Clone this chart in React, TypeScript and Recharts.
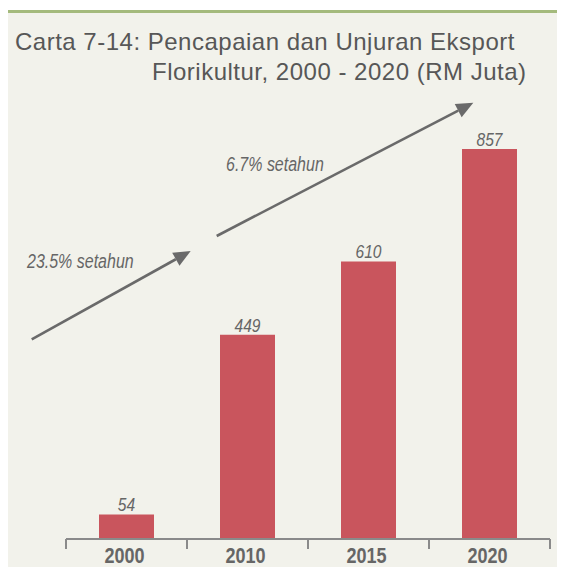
import { BarChart, Bar, XAxis, YAxis, LabelList } from "recharts";

const years = ["2000", "2010", "2015", "2020"];
const exportValues = [54, 449, 610, 857];
const growthNotes = ["23.5% setahun", "6.7% setahun"];
const titleLines = [
  "Carta 7-14: Pencapaian dan Unjuran Eksport",
  "Florikultur, 2000 - 2020 (RM Juta)",
];

const data = years.map((year, i) => ({ year, value: exportValues[i] }));

const SANS = '"Liberation Sans", Arial, sans-serif';
const GREY = "#666666";
const AXIS = "#8a8a8a";

// no narrow face installed, so squeeze Liberation Sans horizontally
const NarrowText = ({ x, y, anchor = "start", size, bold, italic, children }: any) => (
  <text
    transform={`translate(${x},${y}) scale(0.82,1)`}
    x={0}
    y={0}
    textAnchor={anchor}
    fontFamily={SANS}
    fontSize={size}
    fontWeight={bold ? "bold" : "normal"}
    fontStyle={italic ? "italic" : "normal"}
    fill={GREY}
  >
    {children}
  </text>
);

const YearTick = (props: any) => {
  const { x, y, payload, index, width, visibleTicksCount } = props;
  const band = width / (visibleTicksCount || years.length);
  const left = x - band / 2;
  return (
    <g>
      <line x1={left} y1={y} x2={left} y2={y + 10} stroke={AXIS} strokeWidth={2} />
      {index === years.length - 1 && (
        <line x1={x + band / 2} y1={y} x2={x + band / 2} y2={y + 10} stroke={AXIS} strokeWidth={2} />
      )}
      <NarrowText x={x - 2} y={y + 24} anchor="middle" size={22} bold>
        {payload.value}
      </NarrowText>
    </g>
  );
};

const ValueLabel = (props: any) => {
  const { x, y, width, value } = props;
  return (
    <NarrowText x={x + width / 2} y={y - 3} anchor="middle" size={19} italic>
      {value}
    </NarrowText>
  );
};

const Arrow = ({ x1, y1, x2, y2 }: { x1: number; y1: number; x2: number; y2: number }) => {
  const ang = Math.atan2(y2 - y1, x2 - x1);
  const len = 17;
  const half = 7.5;
  const bx = x2 - len * Math.cos(ang);
  const by = y2 - len * Math.sin(ang);
  const px = -Math.sin(ang) * half;
  const py = Math.cos(ang) * half;
  return (
    <g>
      <line x1={x1} y1={y1} x2={bx} y2={by} stroke="#6a6a6a" strokeWidth={2.6} />
      <polygon
        points={`${x2},${y2} ${bx + px},${by + py} ${bx - px},${by - py}`}
        fill="#6a6a6a"
      />
    </g>
  );
};

export default function App() {
  return (
    <div
      style={{
        position: "relative",
        width: 565,
        height: 575,
        margin: -8,
        overflow: "hidden",
        background: "#ffffff",
      }}
    >
      <div
        style={{
          position: "absolute",
          left: 4,
          top: 10,
          width: 620,
          height: 620,
          background: "#f2f2eb",
          borderTop: "3px solid #a4ba7c",
          borderLeft: "3px solid #a4ba7c",
        }}
      />
      <div style={{ position: "absolute", left: 0, top: 0 }}>
        <BarChart
          width={565}
          height={575}
          data={data}
          margin={{ top: 84, right: 15, bottom: 6, left: 66 }}
        >
          <YAxis hide domain={[0, 1000]} />
          <XAxis
            dataKey="year"
            height={30}
            axisLine={{ stroke: AXIS, strokeWidth: 2 }}
            tickLine={false}
            tickSize={0}
            tickMargin={0}
            interval={0}
            tick={<YearTick />}
          />
          <Bar dataKey="value" fill="#c9555d" barSize={55} isAnimationActive={false}>
            <LabelList dataKey="value" content={<ValueLabel />} />
          </Bar>
        </BarChart>
      </div>
      <svg
        width={565}
        height={575}
        style={{ position: "absolute", left: 0, top: 0, pointerEvents: "none" }}
      >
        <text x={15} y={50} fontFamily={SANS} fontSize={24} letterSpacing={0.5} fill="#575757">
          {titleLines[0]}
        </text>
        <text x={152} y={80} fontFamily={SANS} fontSize={24} letterSpacing={0.5} fill="#575757">
          {titleLines[1]}
        </text>
        <Arrow x1={31.7} y1={339.3} x2={190.7} y2={251} />
        <Arrow x1={216.7} y1={236} x2={473.3} y2={102.7} />
        <NarrowText x={27} y={268} size={19.5} italic>
          {growthNotes[0]}
        </NarrowText>
        <NarrowText x={226} y={171} size={19.5} italic>
          {growthNotes[1]}
        </NarrowText>
      </svg>
    </div>
  );
}
